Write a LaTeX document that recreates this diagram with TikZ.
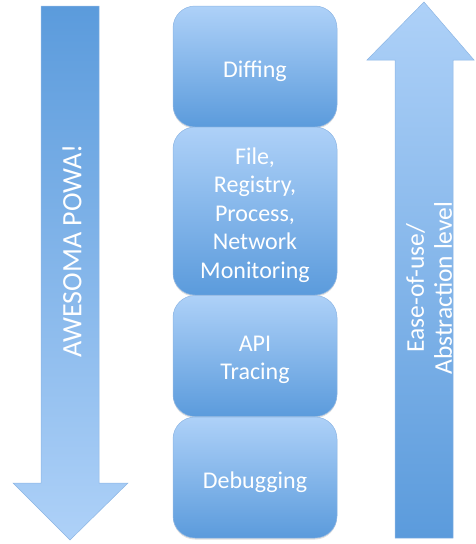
\documentclass[tikz,border=0pt]{standalone}
\usepackage{fontspec}
\setmainfont{Carlito}
\usetikzlibrary{shadows}
\definecolor{deepblue}{HTML}{5B9BDC}
\definecolor{paleblue}{HTML}{AED1F8}
\definecolor{edgeblue}{HTML}{8DB6E4}
\tikzset{
  layer/.style={rectangle, rounded corners=22pt, minimum width=164pt,
    draw=edgeblue, line width=0.5pt, top color=paleblue, bottom color=deepblue,
    inner sep=0pt,
    drop shadow={opacity=0.25, shadow xshift=0pt, shadow yshift=-1.5pt}},
  layertext/.style={text=white, align=center, inner sep=0pt,
    font=\fontsize{24}{28.5}\selectfont},
  bigarrow/.style={draw=edgeblue, line width=0.5pt},
  arrowlabel/.style={text=white, align=center, rotate=90}
}
\begin{document}
\begin{tikzpicture}[x=1pt,y=-1pt]
\useasboundingbox (0,0) rectangle (475,544);
% downward arrow on the left
\path[bigarrow, top color=deepblue, bottom color=paleblue]
  (41,6) -- (99,6) -- (99,483) -- (128,483) -- (70,540) -- (13,483) -- (41,483) -- cycle;
\node[arrowlabel, font=\fontsize{28}{32}\selectfont] (power) at (72,251) {AWESOMA POWA!};
% upward arrow on the right
\path[bigarrow, top color=paleblue, bottom color=deepblue]
  (424,2) -- (474,60) -- (453,60) -- (453,538) -- (395,538) -- (395,60) -- (367,60) -- cycle;
\node[arrowlabel, font=\fontsize{25.5}{28}\selectfont] (ease) at (429,288) {Ease-of-use/\\Abstraction level};
% stack of layers
\node[layer, minimum height=121pt] (diff) at (255,66.5) {};
\node[layer, minimum height=168pt] (mon) at (255,211) {};
\node[layer, minimum height=121pt] (api) at (255,356) {};
\node[layer, minimum height=121pt] (dbg) at (255,477.5) {};
\node[layertext] (difftext) at ([yshift=-5pt]diff.center) {Diffing};
\node[layertext] (montext) at ([yshift=-4pt]mon.center) {File,\\Registry,\\Process,\\Network\\Monitoring};
\node[layertext] (apitext) at ([yshift=-4pt]api.center) {API\\Tracing};
\node[layertext] (dbgtext) at ([yshift=-5pt]dbg.center) {Debugging};
\end{tikzpicture}
\end{document}
